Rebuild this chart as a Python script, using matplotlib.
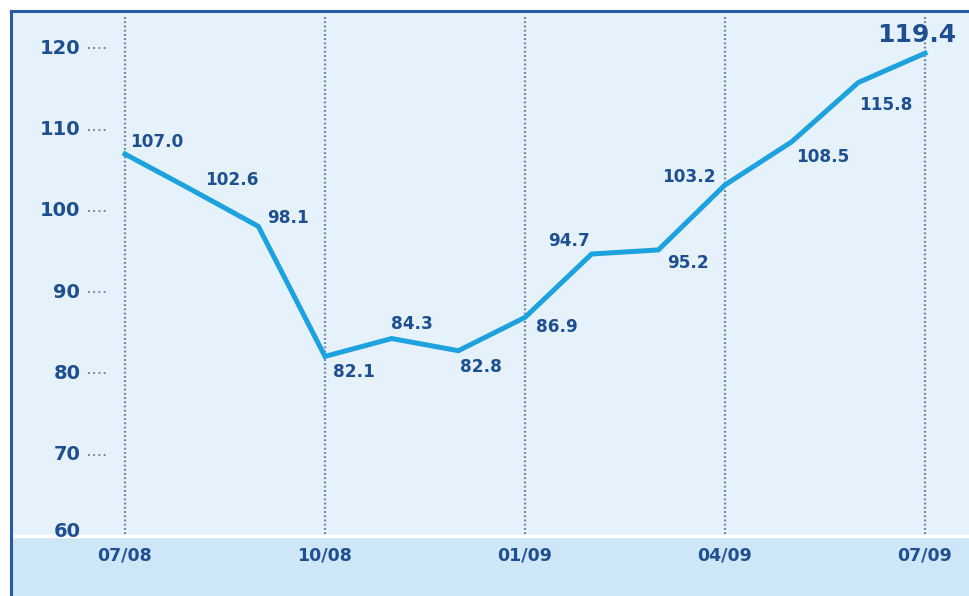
import matplotlib.pyplot as plt
import numpy as np

# data
months = ['07/08', '08/08', '09/08', '10/08', '11/08', '12/08', '01/09',
          '02/09', '03/09', '04/09', '05/09', '06/09', '07/09']
values = [107.0, 102.6, 98.1, 82.1, 84.3, 82.8, 86.9,
          94.7, 95.2, 103.2, 108.5, 115.8, 119.4]
tick_labels = ['07/08', '10/08', '01/09', '04/09', '07/09']
yticks = [60, 70, 80, 90, 100, 110, 120]

# label offsets (points, label centre relative to the point)
offsets = [(23, 8.6), (29, 7.2), (21.6, 5.8), (21, -11.5), (14.4, 10.8),
           (16, -12), (23, -7), (-16, 9.4), (21.6, -9.4), (-26, 5.8),
           (22.3, -10.8), (20, -16.5), (-6, 13)]

txt_col = '#1f4f8e'
line_col = '#1ea2de'
dot_col = '#6f8097'

fig = plt.figure(figsize=(9.69, 5.96), dpi=100)
ax = fig.add_axes([11 / 969, 0, 1 - 11 / 969, 585 / 596])

x = np.arange(len(values))
xmin, xmax = -1.71, 12.66
ymin, ymax = 52.62, 124.6
ax.set_xlim(xmin, xmax)
ax.set_ylim(ymin, ymax)

ax.axhspan(60, ymax, color='#e5f2fc', zorder=0)
ax.axhspan(ymin, 60, color='#cde6f8', zorder=0)
ax.axhline(60, color='white', lw=2.5, zorder=1)

# quarterly dotted verticals
for i in range(0, 13, 3):
    ax.plot([i, i], [60.3, ymax - 0.5], color=dot_col, lw=1.6,
            linestyle=(0, (0.8, 1.1)), zorder=1)

# y labels + little dotted leaders
for v in yticks:
    yy = v if v > 60 else v + 0.5
    ax.text(-0.67, yy, str(v), ha='right', va='center', fontsize=14,
            fontweight='bold', color=txt_col)
    if v > 60:
        ax.plot([-0.56, -0.28], [v, v], color=dot_col, lw=1.4,
                linestyle=(0, (0.9, 1.8)))

for i, lab in zip(range(0, 13, 3), tick_labels):
    ax.text(i, 57.66, lab, ha='center', va='center', fontsize=12.5,
            fontweight='bold', color=txt_col)

ax.plot(x, values, color=line_col, lw=3.6, solid_joinstyle='miter', zorder=3)

for i, (v, off) in enumerate(zip(values, offsets)):
    big = i == len(values) - 1
    ax.annotate(f'{v:.1f}', (i, v), xytext=off, textcoords='offset points',
                ha='center', va='center', fontsize=18 if big else 12.2,
                fontweight='bold', color=txt_col, zorder=4)

ax.axis('off')
# border left + top
ax.plot([xmin, xmin], [ymin, ymax], color='#2a5aa6', lw=2.2, clip_on=False)
ax.plot([xmin, xmax], [ymax, ymax], color='#2a5aa6', lw=2.2, clip_on=False)

fig.savefig('out.png', dpi=100, facecolor='white')
